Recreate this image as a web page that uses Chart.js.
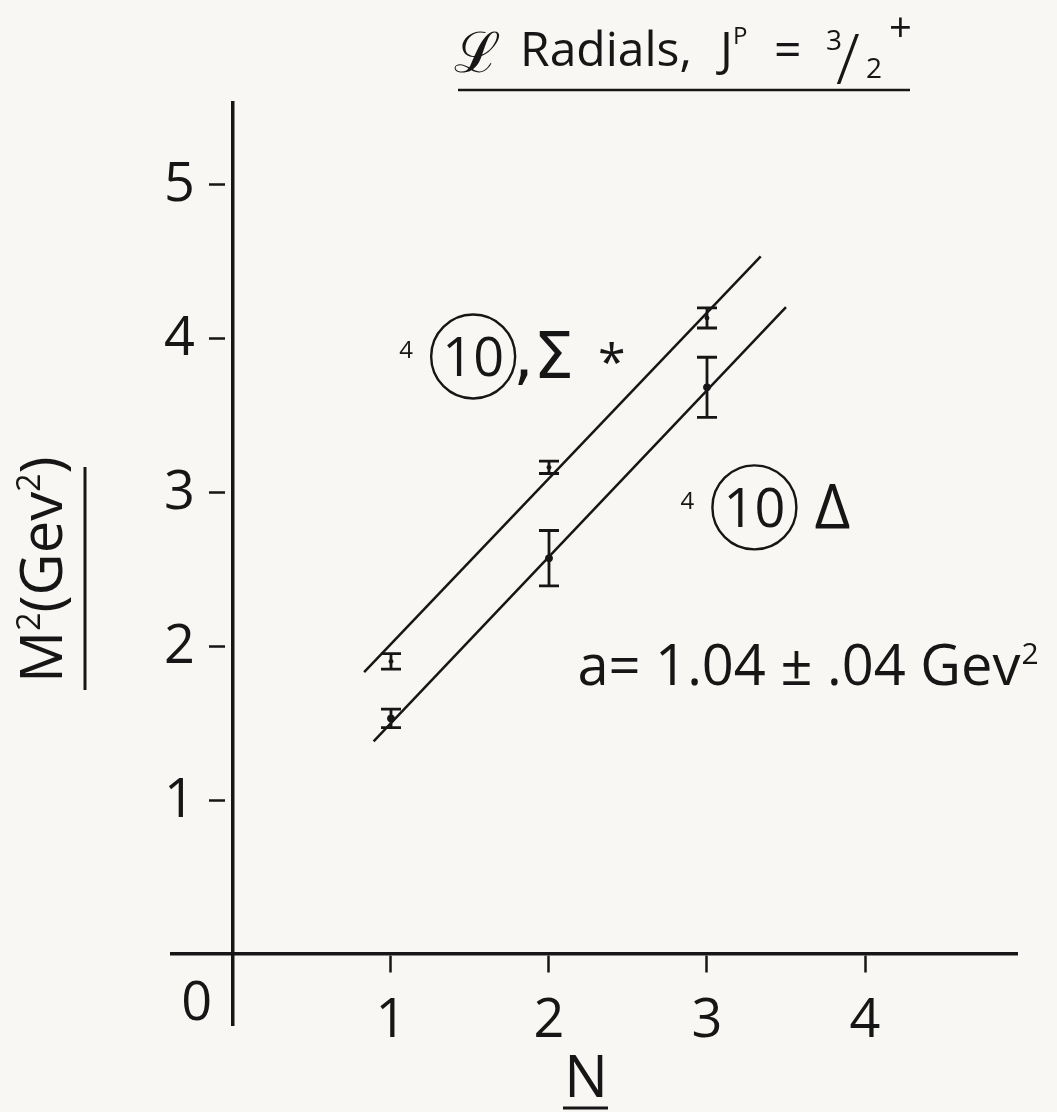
<!DOCTYPE html>
<html>
<head>
<meta charset="utf-8">
<title>Radials, J^P = 3/2+</title>
<script src="https://cdn.jsdelivr.net/npm/chart.js@4.4.1/dist/chart.umd.min.js"></script>
<style>
  html, body { margin: 0; padding: 0; background: #f8f7f3; }
  #c { display: block; }
</style>
</head>
<body>
<canvas id="c" width="1057" height="1112"></canvas>
<script>
// Radial quantum number N and squared masses M^2 (GeV^2)
const radialN = [1, 2, 3];
const sigmaStarM2 = [1.90, 3.16, 4.13];
const sigmaStarErr = [0.05, 0.04, 0.065];
const deltaM2 = [1.53, 2.57, 3.68];
const deltaErr = [0.06, 0.18, 0.195];

// Straight-line trajectories drawn through each family
const sigmaFitN = [0.83, 3.34];
const sigmaFitM2 = [1.83, 4.53];
const deltaFitN = [0.89, 3.50];
const deltaFitM2 = [1.38, 4.20];

// Axis ticks
const xTickValues = [1, 2, 3, 4];
const yTickValues = [1, 2, 3, 4, 5];

const INK = '#161616';
const FONT = '"Open Sans", "DejaVu Sans", sans-serif';

const toPoints = (xs, ys) => xs.map((x, i) => ({ x: x, y: ys[i] }));

// Vertical error bars with caps, placed through the chart's scales
const errorBars = {
  id: 'errorBars',
  afterDatasetsDraw(chart) {
    const { ctx, scales: { x, y } } = chart;
    ctx.save();
    ctx.strokeStyle = INK;
    ctx.lineWidth = 2.8;
    chart.data.datasets.forEach(ds => {
      if (!ds.errors) return;
      ds.data.forEach((p, i) => {
        const px = x.getPixelForValue(p.x);
        const top = y.getPixelForValue(p.y + ds.errors[i]);
        const bot = y.getPixelForValue(p.y - ds.errors[i]);
        const cap = 10;
        ctx.beginPath();
        ctx.moveTo(px, top); ctx.lineTo(px, bot);
        ctx.moveTo(px - cap, top); ctx.lineTo(px + cap, top);
        ctx.moveTo(px - cap, bot); ctx.lineTo(px + cap, bot);
        ctx.stroke();
      });
    });
    ctx.restore();
  }
};

// Tick labels of the vertical axis, set to the left of its tick marks
const yTickLabels = {
  id: 'yTickLabels',
  afterDraw(chart) {
    const { ctx, scales: { x, y } } = chart;
    ctx.save();
    ctx.fillStyle = INK;
    ctx.font = '54px ' + FONT;
    ctx.textAlign = 'right';
    ctx.textBaseline = 'middle';
    const right = x.getPixelForValue(0) - 38;
    yTickValues.forEach(v => ctx.fillText(String(v), right, y.getPixelForValue(v) + 2));
    ctx.restore();
  }
};

// Titles, axis names and in-plot labels
const labels = {
  id: 'labels',
  afterDraw(chart) {
    const { ctx, scales: { x, y } } = chart;
    ctx.save();
    ctx.fillStyle = INK;
    ctx.strokeStyle = INK;
    ctx.textBaseline = 'alphabetic';
    ctx.textAlign = 'left';

    // Title: ℒ Radials, J^P = 3/2 +
    ctx.font = '56px "DejaVu Serif", serif';
    ctx.fillText('ℒ', 454, 72);
    ctx.font = '48px ' + FONT;
    ctx.fillText('Radials,', 520, 66);
    ctx.fillText('J', 720, 66);
    ctx.font = '24px ' + FONT;
    ctx.fillText('P', 733, 44);
    ctx.font = '48px ' + FONT;
    ctx.fillText('=', 774, 66);
    ctx.font = '28px ' + FONT;
    ctx.fillText('3', 826, 50);
    ctx.fillText('2', 866, 78);
    ctx.font = '300 70px ' + FONT;
    ctx.fillText('/', 836, 84);
    ctx.font = '40px ' + FONT;
    ctx.fillText('+', 889, 42);
    ctx.lineWidth = 2.5;
    ctx.beginPath(); ctx.moveTo(458, 90); ctx.lineTo(910, 90); ctx.stroke();

    // Vertical axis name, M^2(Gev^2), underlined
    ctx.save();
    ctx.translate(62, 683);
    ctx.rotate(-Math.PI / 2);
    let cx = 0;
    const part = (t, size, dy) => {
      ctx.font = size + 'px ' + FONT;
      ctx.fillText(t, cx, dy);
      cx += ctx.measureText(t).width;
    };
    part('M', 58, 0); part('2', 32, -22); part('(Gev', 58, 0); part('2', 32, -22); part(')', 58, 0);
    ctx.restore();
    ctx.lineWidth = 3;
    ctx.beginPath(); ctx.moveTo(85, 467); ctx.lineTo(85, 690); ctx.stroke();

    // Horizontal axis name, N, underlined
    ctx.font = '58px ' + FONT;
    ctx.textAlign = 'center';
    ctx.fillText('N', 586, 1097);
    ctx.beginPath(); ctx.moveTo(563, 1108); ctx.lineTo(608, 1108); ctx.stroke();

    // Origin label
    ctx.font = '54px ' + FONT;
    ctx.fillText('0', x.getPixelForValue(-0.23), y.getPixelForValue(-0.43));

    // Multiplet labels
    const multiplet = (px, py, tail, tailFont, tailDx) => {
      ctx.textAlign = 'left';
      ctx.font = '24px ' + FONT;
      ctx.fillText('4', px - 74, py + 2);
      ctx.lineWidth = 2.4;
      ctx.beginPath(); ctx.arc(px, py, 42, 0, Math.PI * 2); ctx.stroke();
      ctx.textAlign = 'center';
      ctx.font = '54px ' + FONT;
      ctx.fillText('10', px, py + 20);
      ctx.textAlign = 'left';
      ctx.font = tailFont;
      ctx.fillText(tail, px + tailDx, py + 22);
    };
    multiplet(x.getPixelForValue(1.52), y.getPixelForValue(3.88), ',Σ', '64px "DejaVu Sans", sans-serif', 40);
    ctx.font = '50px ' + FONT;
    ctx.fillText('*', x.getPixelForValue(2.31), y.getPixelForValue(3.88) + 24);
    multiplet(x.getPixelForValue(3.3), y.getPixelForValue(2.90), 'Δ', '62px ' + FONT, 60);

    // Slope of the trajectories
    ctx.textAlign = 'left';
    const ax = x.getPixelForValue(2.18);
    const ay = y.getPixelForValue(1.75);
    let tx = ax;
    ctx.font = '56px ' + FONT;
    const t1 = 'a= 1.04 ± .04 Gev';
    ctx.fillText(t1, tx, ay);
    tx += ctx.measureText(t1).width;
    ctx.font = '30px ' + FONT;
    ctx.fillText('2', tx + 1, ay - 21);

    ctx.restore();
  }
};

const fitLine = (xs, ys) => ({
  type: 'line',
  data: toPoints(xs, ys),
  borderColor: INK,
  borderWidth: 2.5,
  pointRadius: 0,
  fill: false,
  tension: 0
});

new Chart(document.getElementById('c'), {
  type: 'scatter',
  data: {
    datasets: [
      fitLine(sigmaFitN, sigmaFitM2),
      fitLine(deltaFitN, deltaFitM2),
      {
        label: 'Σ*',
        data: toPoints(radialN, sigmaStarM2),
        errors: sigmaStarErr,
        pointRadius: 2,
        backgroundColor: INK,
        borderColor: INK
      },
      {
        label: 'Δ',
        data: toPoints(radialN, deltaM2),
        errors: deltaErr,
        pointRadius: 3.5,
        backgroundColor: INK,
        borderColor: INK
      }
    ]
  },
  options: {
    responsive: false,
    animation: false,
    devicePixelRatio: 1,
    layout: { padding: { left: 172, right: 40, top: 103, bottom: 87 } },
    plugins: { legend: { display: false }, tooltip: { enabled: false } },
    scales: {
      x: {
        type: 'linear',
        min: -0.386,
        max: 4.962,
        position: { y: 0 },
        afterBuildTicks: s => { s.ticks = xTickValues.map(v => ({ value: v })); },
        border: { display: true, color: INK, width: 3.5 },
        grid: { display: true, drawOnChartArea: false, drawTicks: true, tickLength: 17, tickWidth: 2.5, tickColor: INK },
        ticks: { color: INK, font: { family: FONT, size: 54 }, padding: 18, maxRotation: 0 }
      },
      y: {
        type: 'linear',
        min: -0.461,
        max: 5.526,
        position: { x: 0 },
        afterBuildTicks: s => { s.ticks = yTickValues.map(v => ({ value: v })); },
        border: { display: true, color: INK, width: 3.5 },
        grid: { display: true, drawOnChartArea: false, drawTicks: true, tickLength: 22, tickWidth: 2.5, tickColor: INK, tickBorderDash: [0, 6, 16, 40] },
        ticks: { display: false }
      }
    }
  },
  plugins: [errorBars, yTickLabels, labels]
});
</script>
</body>
</html>
